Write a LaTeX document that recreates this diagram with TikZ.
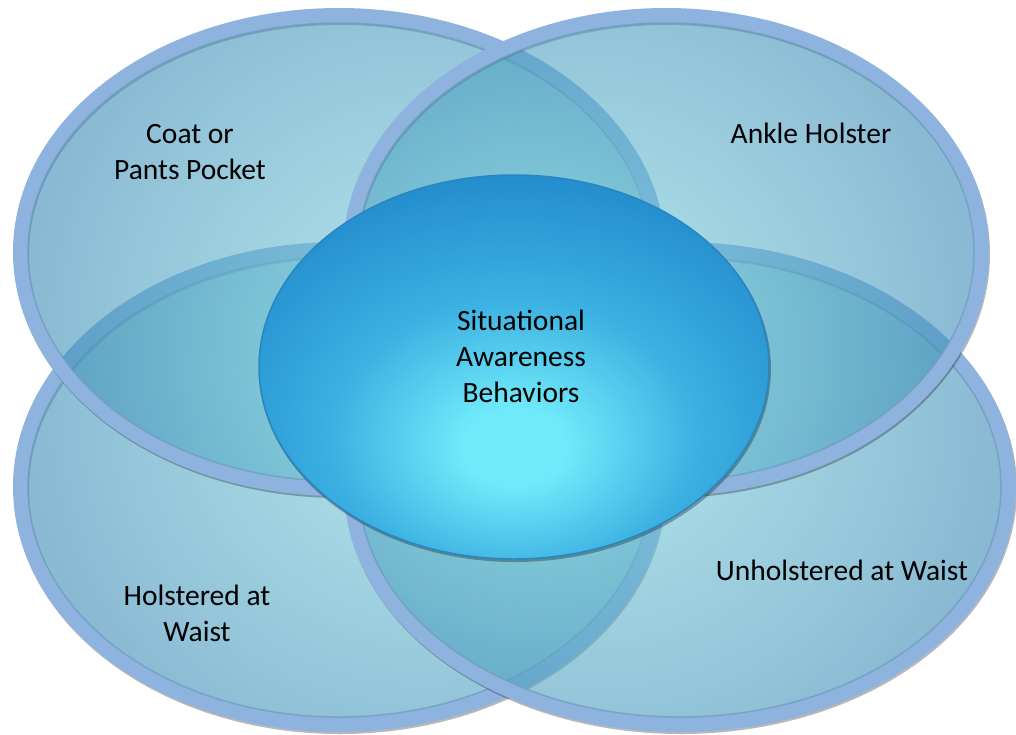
\documentclass[tikz,border=0pt]{standalone}
\usepackage{fontspec}
\setmainfont{Carlito}
\usetikzlibrary{shapes.geometric}

\definecolor{petalin}{HTML}{70C6D6}
\definecolor{petalout}{HTML}{2C7AAC}
\definecolor{petalband}{HTML}{8FB3DF}
\definecolor{petalrim}{HTML}{6E9BBB}
\definecolor{corein}{HTML}{70EAFA}
\definecolor{coremid}{HTML}{3BB0E2}
\definecolor{coreout}{HTML}{2189CB}
\definecolor{coreedge}{HTML}{2A86C0}

% soft glow, bright side pushed off centre (turned with shading angle)
\pgfdeclareradialshading{petalglow}{\pgfpoint{0bp}{-14bp}}{color(0bp)=(petalin); color(10bp)=(petalin); color(42bp)=(petalout); color(100bp)=(petalout)}
\pgfdeclareradialshading{coreglow}{\pgfpoint{0bp}{-11bp}}{color(0bp)=(corein); color(5bp)=(corein); color(18bp)=(coremid); color(34bp)=(coreout); color(100bp)=(coreout)}

\begin{document}
\begin{tikzpicture}[x=1pt, y=-1pt,
    petal/.style={ellipse, inner sep=0pt, shade, shading=petalglow, fill opacity=0.6, draw=petalband, line width=15pt},
    petal shadow/.style={ellipse, inner sep=0pt, draw=black, draw opacity=0.28, line width=15pt},
    petal rim/.style={ellipse, inner sep=0pt, draw=petalrim, draw opacity=0.7, line width=1.5pt},
    core/.style={ellipse, inner sep=0pt, minimum width=510pt, minimum height=384pt, shade, shading=coreglow, draw=coreedge, line width=1.5pt},
    core shadow/.style={ellipse, inner sep=0pt, minimum width=512pt, minimum height=386pt, fill=black, fill opacity=0.3},
    petal label/.style={font=\fontsize{29.5pt}{36pt}\selectfont, align=center}]
    \useasboundingbox (0,0) rectangle (1016,734);

    % Petals
    \foreach \name/\x/\y/\w/\h/\a in {holst/339/487/637/475/135, unholst/680/487/657/475/-135, coat/339/252/637/473/45, ankle/666/252/631/473/-45}{
        \node [petal shadow, minimum width=\w pt, minimum height=\h pt] at (\x+1,\y+2) {};
        \node (\name) [petal, minimum width=\w pt, minimum height=\h pt, shading angle=\a] at (\x,\y) {};
        \node [petal rim, minimum width={(\w-15)*1pt}, minimum height={(\h-15)*1pt}] at (\name) {};
    }

    % Centre
    \node [core shadow] at (515,369) {};
    \node (core) [core] at (514,367) {};

    % Labels
    \node (coatlbl) [petal label] at (190,152) {Coat or\\Pants Pocket};
    \node (anklelbl) [petal label] at (811,133) {Ankle Holster};
    \node (holstlbl) [petal label] at (197,613) {Holstered at\\Waist};
    \node (unholstlbl) [petal label] at (842,570) {Unholstered at Waist};
    \node (corelbl) [petal label] at (521,356) {Situational\\Awareness\\Behaviors};

\end{tikzpicture}
\end{document}
